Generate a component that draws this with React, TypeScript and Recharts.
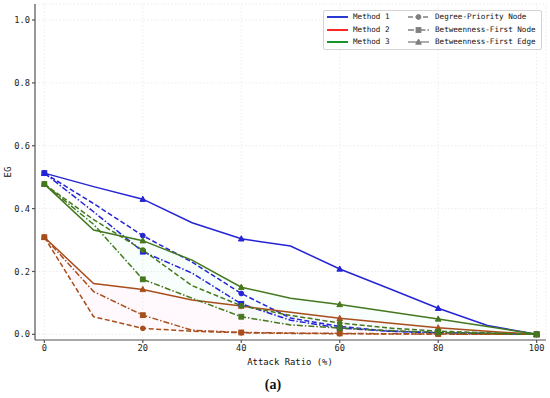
import React from 'react';
import { ComposedChart, Line, Area, XAxis, YAxis, CartesianGrid } from 'recharts';

// attack ratio (%) and EG values
const attackRatios = [0, 10, 20, 30, 40, 50, 60, 70, 80, 90, 100];

const m1Degree = [0.513, 0.416, 0.314, 0.23, 0.13, 0.052, 0.025, 0.01, 0.005, 0.003, 0];
const m1BetNode = [0.513, 0.39, 0.263, 0.195, 0.097, 0.045, 0.02, 0.01, 0.005, 0.002, 0];
const m1Edge = [0.513, 0.47, 0.43, 0.355, 0.304, 0.281, 0.208, 0.146, 0.083, 0.028, 0];

const m2Degree = [0.309, 0.056, 0.019, 0.01, 0.005, 0.003, 0.002, 0.001, 0.001, 0, 0];
const m2BetNode = [0.309, 0.136, 0.061, 0.013, 0.006, 0.004, 0.003, 0.002, 0.001, 0, 0];
const m2Edge = [0.309, 0.162, 0.143, 0.109, 0.09, 0.07, 0.051, 0.036, 0.021, 0.01, 0];

const m3Degree = [0.478, 0.365, 0.268, 0.155, 0.091, 0.06, 0.036, 0.02, 0.01, 0.005, 0];
const m3BetNode = [0.478, 0.35, 0.175, 0.115, 0.056, 0.03, 0.02, 0.012, 0.006, 0.003, 0];
const m3Edge = [0.478, 0.332, 0.298, 0.236, 0.15, 0.115, 0.095, 0.072, 0.049, 0.025, 0];

const xTicks = [0, 20, 40, 60, 80, 100];
const yTicks = [0, 0.2, 0.4, 0.6, 0.8, 1.0];

const methodNames = ['Method 1', 'Method 2', 'Method 3'];
const strategyNames = ['Degree-Priority Node', 'Betweenness-First Node', 'Betweenness-First Edge'];

const BLUE = '#2424d6';
const BROWN = '#a84e1c';
const GREEN = '#45781e';
const MONO = '"DejaVu Sans Mono", monospace';

const data = attackRatios.map((x, i) => ({
  x,
  m1Degree: m1Degree[i], m1BetNode: m1BetNode[i], m1Edge: m1Edge[i],
  m2Degree: m2Degree[i], m2BetNode: m2BetNode[i], m2Edge: m2Edge[i],
  m3Degree: m3Degree[i], m3BetNode: m3BetNode[i], m3Edge: m3Edge[i],
  m2Band: [Math.min(m2Degree[i], m2BetNode[i], m2Edge[i]), Math.max(m2Degree[i], m2BetNode[i], m2Edge[i])],
  m3Band: [Math.min(m3Degree[i], m3BetNode[i], m3Edge[i]), Math.max(m3Degree[i], m3BetNode[i], m3Edge[i])],
}));

type Shape = 'circle' | 'square' | 'triangle';

function drawMarker(shape: Shape, cx: number, cy: number, color: string, key?: any) {
  if (shape === 'circle') return <circle key={key} cx={cx} cy={cy} r={2.4} fill={color} stroke={color} />;
  if (shape === 'square') return <rect key={key} x={cx - 2.4} y={cy - 2.4} width={4.8} height={4.8} fill={color} stroke={color} />;
  return <polygon key={key} points={`${cx},${cy - 3} ${cx - 2.8},${cy + 2.2} ${cx + 2.8},${cy + 2.2}`} fill={color} stroke={color} />;
}

// markers only on every other point (0, 20, 40 ...)
const marker = (shape: Shape, color: string) => (p: any) => {
  const { cx, cy, payload, index } = p;
  if (payload.x % 20 !== 0 || cx == null || cy == null) return <g key={`d${index}`} />;
  return drawMarker(shape, cx, cy, color, `d${index}`);
};

const styles: { suffix: string; dash?: string; shape: Shape }[] = [
  { suffix: 'Degree', dash: '5 2.5', shape: 'circle' },
  { suffix: 'BetNode', dash: '6 2 1.5 2', shape: 'square' },
  { suffix: 'Edge', dash: undefined, shape: 'triangle' },
];

const methods = [
  { prefix: 'm1', color: BLUE },
  { prefix: 'm2', color: BROWN },
  { prefix: 'm3', color: GREEN },
];

const legendMethodColors = ['#2a3ad0', '#ff2525', '#15962a'];

function LegendBox() {
  const rowY = [6, 18.5, 31];
  return (
    <div style={{
      position: 'absolute', left: 323, top: 10, width: 217, height: 38,
      border: '1px solid #d4d4d4', borderRadius: 2, background: 'rgba(255,255,255,0.85)',
      fontFamily: MONO, fontSize: 7.6, color: '#111',
    }}>
      {methodNames.map((name, i) => (
        <React.Fragment key={name}>
          <svg style={{ position: 'absolute', left: 3, top: rowY[i] - 4 }} width={22} height={8}>
            <line x1={0} y1={4} x2={21} y2={4} stroke={legendMethodColors[i]} strokeWidth={2} />
          </svg>
          <span style={{ position: 'absolute', left: 29, top: rowY[i] - 5, lineHeight: '10px', whiteSpace: 'nowrap' }}>{name}</span>
        </React.Fragment>
      ))}
      {strategyNames.map((name, i) => (
        <React.Fragment key={name}>
          <svg style={{ position: 'absolute', left: 84, top: rowY[i] - 4 }} width={22} height={8}>
            <line x1={0} y1={4} x2={21} y2={4} stroke="#808080" strokeWidth={1.3} strokeDasharray={styles[i].dash} />
            {drawMarker(styles[i].shape, 10.5, 4, '#808080')}
          </svg>
          <span style={{ position: 'absolute', left: 111, top: rowY[i] - 5, lineHeight: '10px', whiteSpace: 'nowrap' }}>{name}</span>
        </React.Fragment>
      ))}
    </div>
  );
}

export default function App() {
  const tick = { fill: '#222', fontSize: 8.7, fontFamily: MONO };
  return (
    <div style={{ position: 'absolute', left: 0, top: 0, width: 550, height: 398, background: '#fff' }}>
      <ComposedChart width={550} height={398} data={data} margin={{ top: 4, right: 4, left: 0, bottom: 0 }}>
        <CartesianGrid stroke="#ececec" strokeDasharray="1.5 2" />
        <XAxis
          dataKey="x" type="number" domain={[-1.9, 101.9]} ticks={xTicks} height={58}
          allowDataOverflow tick={tick} tickSize={3} stroke="#555" strokeWidth={1.2} tickLine={{ stroke: '#555' }}
        />
        <XAxis xAxisId="top" orientation="top" type="number" domain={[-1.9, 101.9]} height={0} tick={false} tickLine={false} stroke="#555" strokeWidth={1.2} />
        <YAxis
          type="number" domain={[-0.018, 1.051]} ticks={yTicks} width={35} allowDataOverflow
          tick={tick} tickSize={3} stroke="#555" strokeWidth={1.2} tickLine={{ stroke: '#555' }}
          tickFormatter={(v: number) => v.toFixed(1)}
        />
        <YAxis yAxisId="right" orientation="right" type="number" domain={[-0.018, 1.051]} width={0} tick={false} tickLine={false} stroke="#555" strokeWidth={1.2} />
        <Area dataKey="m2Band" type="linear" stroke="none" fill="#ff66cc" fillOpacity={0.04} isAnimationActive={false} />
        <Area dataKey="m3Band" type="linear" stroke="none" fill="#33ddaa" fillOpacity={0.04} isAnimationActive={false} />
        {methods.map((m) =>
          styles.map((s) => (
            <Line
              key={m.prefix + s.suffix}
              dataKey={m.prefix + s.suffix}
              type="linear"
              stroke={m.color}
              strokeWidth={1.5}
              strokeDasharray={s.dash}
              dot={marker(s.shape, m.color)}
              activeDot={false}
              isAnimationActive={false}
            />
          ))
        )}
      </ComposedChart>
      <div style={{
        position: 'absolute', left: 8, top: 172, transform: 'translate(-50%, -50%) rotate(-90deg)',
        fontFamily: MONO, fontSize: 9, color: '#111',
      }}>EG</div>
      <div style={{
        position: 'absolute', left: 290, top: 362, transform: 'translate(-50%, -50%)',
        fontFamily: MONO, fontSize: 8.9, color: '#111', whiteSpace: 'nowrap',
      }}>Attack Ratio (%)</div>
      <div style={{
        position: 'absolute', left: 273, top: 385, transform: 'translate(-50%, -50%)',
        fontFamily: '"Liberation Serif", serif', fontWeight: 'bold', fontSize: 14, color: '#111',
      }}>(a)</div>
      <LegendBox />
    </div>
  );
}
